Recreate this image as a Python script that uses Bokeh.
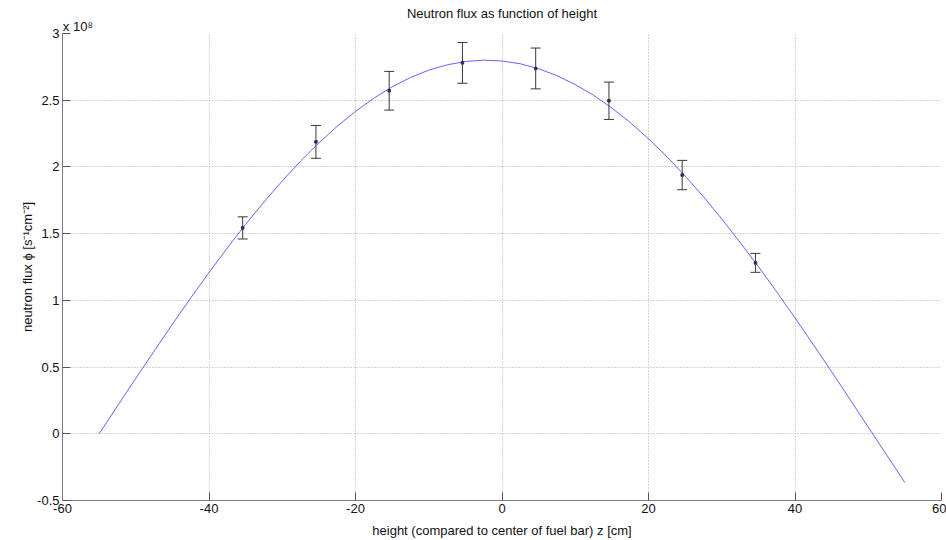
from bokeh.plotting import figure
from bokeh.models import (ColumnDataSource, Whisker, TeeHead, Range1d, FixedTicker,
                          NumeralTickFormatter, LinearAxis, CustomJSTickFormatter)
from bokeh.embed import file_html
from bokeh.resources import INLINE

# measured points (height z in cm, flux in units of 1e8 s^-1 cm^-2)
z_data = [-35.4, -25.4, -15.4, -5.4, 4.6, 14.6, 24.6, 34.6]
flux_data = [1.543, 2.188, 2.571, 2.780, 2.738, 2.496, 1.939, 1.281]
flux_err = [0.083, 0.123, 0.145, 0.153, 0.153, 0.140, 0.110, 0.071]

# fitted curve
z_fit = [-55, -52.5, -50, -47.5, -45, -42.5, -40, -37.5, -35, -32.5, -30, -27.5,
         -25, -22.5, -20, -17.5, -15, -12.5, -10, -7.5, -5, -2.5, 0, 2.5,
         5, 7.5, 10, 12.5, 15, 17.5, 20, 22.5, 25, 27.5, 30, 32.5,
         35, 37.5, 40, 42.5, 45, 47.5, 50, 52.5, 55]
flux_fit = [0.000, 0.208, 0.415, 0.619, 0.821, 1.018, 1.208, 1.393, 1.570, 1.737, 1.895, 2.044,
            2.180, 2.305, 2.416, 2.515, 2.600, 2.670, 2.725, 2.765, 2.790, 2.800, 2.794, 2.773,
            2.736, 2.684, 2.617, 2.537, 2.441, 2.333, 2.211, 2.077, 1.932, 1.777, 1.610, 1.435,
            1.253, 1.064, 0.869, 0.668, 0.465, 0.258, 0.050, -0.158, -0.365]

x_ticks = [-60, -40, -20, 0, 20, 40, 60]
y_ticks = [-0.5, 0, 0.5, 1, 1.5, 2, 2.5, 3]
exponent_pos = [-57.9]
exponent_text = "x 10\u2078"

FONT = "Liberation Sans"
TXT = "#111111"

p = figure(width=946, height=540, output_backend="svg", toolbar_location=None,
           x_range=Range1d(-60, 60), y_range=Range1d(-0.5, 3),
           title="Neutron flux as function of height",
           min_border_left=62, min_border_right=5, min_border_top=33, min_border_bottom=38)
p.background_fill_color = "white"
p.border_fill_color = "white"
p.outline_line_color = None

p.title.align = "center"
p.title.text_font = FONT
p.title.text_font_size = "13px"
p.title.text_font_style = "normal"
p.title.text_color = TXT
p.title.standoff = -10

for ax in (p.xaxis[0], p.yaxis[0]):
    ax.axis_line_color = "#808080"
    ax.major_tick_line_color = "#555555"
    ax.major_tick_in = 8
    ax.major_tick_out = 0
    ax.minor_tick_line_color = None
    ax.major_label_text_font = FONT
    ax.major_label_text_font_size = "13px"
    ax.major_label_text_color = TXT
    ax.axis_label_text_font = FONT
    ax.axis_label_text_font_size = "13px"
    ax.axis_label_text_font_style = "normal"
    ax.axis_label_text_color = TXT
    ax.major_label_standoff = 3

p.xaxis.axis_label_standoff = 7
p.yaxis.axis_label_standoff = -1

p.xaxis.ticker = FixedTicker(ticks=x_ticks)
p.yaxis.ticker = FixedTicker(ticks=y_ticks)
p.xaxis.formatter = NumeralTickFormatter(format="0.[0]")
p.yaxis.formatter = NumeralTickFormatter(format="0.[0]")
p.xaxis.axis_label = "height (compared to center of fuel bar) z [cm]"
p.yaxis.axis_label = "neutron flux \u03d5 [s\u207b\u00b9cm\u207b\u00b2]"

# axis above carrying the exponent "x 10^8"
top_ax = LinearAxis(ticker=FixedTicker(ticks=exponent_pos),
                    formatter=CustomJSTickFormatter(code="return '%s';" % exponent_text),
                    axis_line_color=None, major_tick_line_color=None,
                    minor_tick_line_color=None, major_label_standoff=-6,
                    major_label_text_font=FONT, major_label_text_font_size="13px",
                    major_label_text_color=TXT)
p.add_layout(top_ax, "above")

for g in (p.xgrid[0], p.ygrid[0]):
    g.grid_line_color = "#a8a8a8"
    g.grid_line_dash = "1 2"
    g.grid_line_width = 1

# fit curve
p.line(z_fit, flux_fit, line_color="#3030ff", line_width=1, line_alpha=0.75)

# error bars
src = ColumnDataSource(dict(
    z=z_data,
    flux=flux_data,
    upper=[f + e for f, e in zip(flux_data, flux_err)],
    lower=[f - e for f, e in zip(flux_data, flux_err)],
))
wh = Whisker(source=src, base="z", upper="upper", lower="lower",
             line_color="#383838", line_width=1,
             upper_head=TeeHead(size=10, line_color="#383838", line_width=1),
             lower_head=TeeHead(size=10, line_color="#383838", line_width=1))
p.add_layout(wh)
p.scatter("z", "flux", source=src, marker="square", size=2.5, color="#303050")

open("out.html", "w").write(file_html(p, INLINE))
